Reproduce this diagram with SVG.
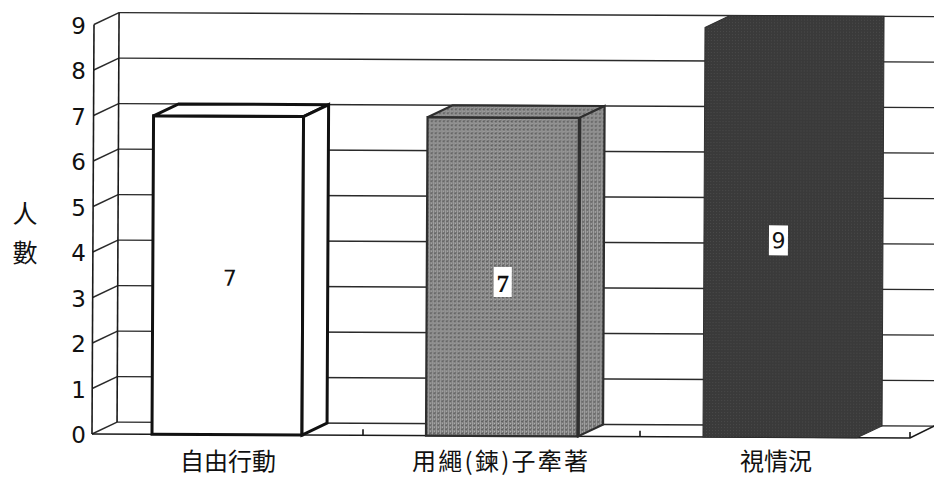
<svg xmlns="http://www.w3.org/2000/svg" width="934" height="477" viewBox="0 0 934 477">
<defs>
<pattern id="tex2" width="4" height="4" patternUnits="userSpaceOnUse">
<rect width="4" height="4" fill="#808080"/>
<rect x="0" y="0" width="1" height="4" fill="#a0a0a0"/>
<rect x="2" y="1" width="1" height="1" fill="#b8b8b8"/>
<rect x="1" y="3" width="2" height="1" fill="#5e5e5e"/>
<rect x="3" y="2" width="1" height="1" fill="#686868"/>
</pattern>
<pattern id="tex3" width="3" height="3" patternUnits="userSpaceOnUse">
<rect width="3" height="3" fill="#3a3a3a"/>
<rect x="1" y="1" width="1" height="1" fill="#4a4a4a"/>
</pattern>
<style>
.grid{stroke:#2a2a2a;stroke-width:1.4;fill:none}
.ax{stroke:#1a1a1a;stroke-width:1.6;fill:none}
.ylab{font-family:"DejaVu Sans",sans-serif;font-size:23px;fill:#111;text-anchor:end}
.cjk{font-family:"Noto Sans CJK TC","Noto Sans CJK SC",sans-serif;fill:#111;text-anchor:middle}
.val{font-family:"DejaVu Sans",sans-serif;font-size:22px;fill:#111;text-anchor:middle}
</style>
</defs>
<rect width="934" height="477" fill="#fff"/>
<g id="chart" transform="rotate(0.28 92 434)">
<g id="connectors">
<g class="grid">
<line x1="117" y1="422" x2="940" y2="422"/>
<line x1="117" y1="376.5" x2="940" y2="376.5"/>
<line x1="117" y1="331" x2="940" y2="331"/>
<line x1="117" y1="285.5" x2="940" y2="285.5"/>
<line x1="117" y1="240" x2="940" y2="240"/>
<line x1="117" y1="194.5" x2="940" y2="194.5"/>
<line x1="117" y1="149" x2="940" y2="149"/>
<line x1="117" y1="103.5" x2="940" y2="103.5"/>
<line x1="117" y1="58" x2="940" y2="58"/>
<line x1="117" y1="12.5" x2="940" y2="12.5"/>
<line x1="92" y1="434" x2="117" y2="422"/>
<line x1="92" y1="388.5" x2="117" y2="376.5"/>
<line x1="92" y1="343" x2="117" y2="331"/>
<line x1="92" y1="297.5" x2="117" y2="285.5"/>
<line x1="92" y1="252" x2="117" y2="240"/>
<line x1="92" y1="206.5" x2="117" y2="194.5"/>
<line x1="92" y1="161" x2="117" y2="149"/>
<line x1="92" y1="115.5" x2="117" y2="103.5"/>
<line x1="92" y1="70" x2="117" y2="58"/>
<line x1="92" y1="24.5" x2="117" y2="12.5"/>
</g>
<g class="ax">
<line x1="92" y1="24.5" x2="92" y2="434"/>
<line x1="117" y1="12.5" x2="117" y2="422"/>
<polyline points="92,434 910,434 936,421"/>
<line x1="363" y1="434" x2="363" y2="428"/>
<line x1="640" y1="434" x2="640" y2="428"/>
<line x1="910" y1="434" x2="910" y2="428"/>
</g>
</g>
<g id="bar1" stroke="#111" stroke-width="3" stroke-linejoin="miter" fill="#fff">
<rect x="152" y="115.5" width="150" height="318.5"/>
<polygon points="152,115.5 177,103.5 327,103.5 302,115.5"/>
<polygon points="302,115.5 327,103.5 327,422 302,434"/>
<text class="val" x="229" y="285" stroke="none">7</text>
</g>
<g id="bar2" stroke="#2e2e2e" stroke-width="2.2" fill="url(#tex2)">
<rect x="426" y="115.5" width="152" height="318.5"/>
<polygon points="426,115.5 451,103.5 603,103.5 578,115.5"/>
<polygon points="578,115.5 603,103.5 603,422 578,434"/>
<line x1="578" y1="115.5" x2="578" y2="434" stroke-width="3.5"/>
<rect x="493" y="265" width="18" height="30" fill="#fff" stroke="none"/>
<text x="502" y="290" stroke="none" fill="#111" text-anchor="middle" font-family="'Liberation Serif',serif" font-weight="bold" font-size="25">7</text>
</g>
<g id="bar3">
<polygon points="703,24.5 728,12.5 882,12.5 882,422 857,434 703,434" fill="url(#tex3)" stroke="#2f2f2f" stroke-width="1"/>
<rect x="768" y="222" width="19" height="30" fill="#fff"/>
<text class="val" x="777.5" y="245">9</text>
</g>
</g>
<g id="yaxis-labels">
<text class="ylab" x="86" y="34">9</text>
<text class="ylab" x="86" y="79">8</text>
<text class="ylab" x="86" y="125">7</text>
<text class="ylab" x="86" y="170">6</text>
<text class="ylab" x="86" y="216">5</text>
<text class="ylab" x="86" y="261">4</text>
<text class="ylab" x="86" y="307">3</text>
<text class="ylab" x="86" y="352">2</text>
<text class="ylab" x="86" y="398">1</text>
<text class="ylab" x="86" y="443">0</text>
</g>
<g id="ytitle">
<text class="cjk" x="25" y="223" font-size="25">人</text>
<text class="cjk" x="25" y="262" font-size="25">數</text>
</g>
<g id="xlabels">
<text class="cjk" x="228" y="470" font-size="24">自由行動</text>
<text class="cjk" x="500" y="470" font-size="24" textLength="176" lengthAdjust="spacing">用繩(鍊)子牽著</text>
<text class="cjk" x="776" y="470" font-size="24">視情況</text>
</g>
</svg>
